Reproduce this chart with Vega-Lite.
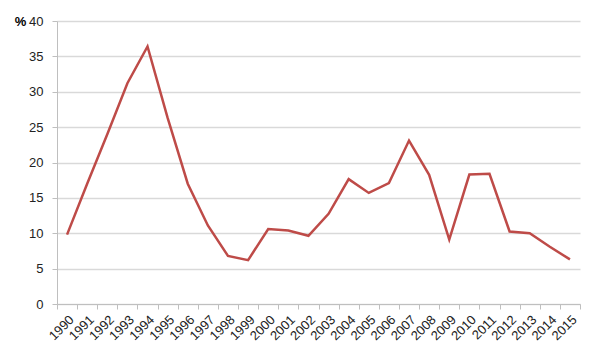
{
  "$schema": "https://vega.github.io/schema/vega-lite/v6.json",
  "autosize": "none",
  "width": 523,
  "height": 283,
  "padding": {"left": 57, "top": 21, "right": 26, "bottom": 43},
  "background": "white",
  "config": {"view": {"stroke": null}, "font": "Liberation Sans"},
  "data": {"values": [
    {"year": "1990", "value": 9.8},
    {"year": "1991", "value": 17.0},
    {"year": "1992", "value": 24.0},
    {"year": "1993", "value": 31.2},
    {"year": "1994", "value": 36.4},
    {"year": "1995", "value": 26.3},
    {"year": "1996", "value": 17.0},
    {"year": "1997", "value": 11.1},
    {"year": "1998", "value": 6.8},
    {"year": "1999", "value": 6.2},
    {"year": "2000", "value": 10.6},
    {"year": "2001", "value": 10.4},
    {"year": "2002", "value": 9.65},
    {"year": "2003", "value": 12.75},
    {"year": "2004", "value": 17.65},
    {"year": "2005", "value": 15.7},
    {"year": "2006", "value": 17.1},
    {"year": "2007", "value": 23.1},
    {"year": "2008", "value": 18.25},
    {"year": "2009", "value": 9.1},
    {"year": "2010", "value": 18.3},
    {"year": "2011", "value": 18.4},
    {"year": "2012", "value": 10.25},
    {"year": "2013", "value": 10.0},
    {"year": "2014", "value": 8.1},
    {"year": "2015", "value": 6.3}
  ]},
  "mark": {"type": "line", "color": "#BE4B48", "strokeWidth": 2.5},
  "encoding": {
    "x": {
      "field": "year", "type": "ordinal", "bandPosition": 0.5,
      "scale": {"type": "band", "paddingInner": 0, "paddingOuter": 0},
      "axis": {
        "title": null, "grid": false, "tickBand": "extent",
        "domainColor": "#bfbfbf", "tickColor": "#bfbfbf", "tickSize": 5,
        "labelAngle": -45, "labelAlign": "right", "labelBaseline": "top",
        "labelFontSize": 13, "labelColor": "#222", "labelPadding": 4,
        "labelOffset": 0
      }
    },
    "y": {
      "field": "value", "type": "quantitative",
      "scale": {"domain": [0, 40], "nice": false},
      "axis": {
        "values": [0, 5, 10, 15, 20, 25, 30, 35, 40],
        "title": "%", "titleAngle": 0, "titleX": -37, "titleY": 0,
        "titleAlign": "center", "titleBaseline": "middle",
        "titleFontSize": 13, "titleFontWeight": "bold", "titleColor": "#000",
        "gridColor": "#d9d9d9", "gridWidth": 1.5,
        "domainColor": "#bfbfbf", "tickColor": "#bfbfbf", "tickSize": 5,
        "labelFontSize": 13, "labelColor": "#222", "labelPadding": 9
      }
    }
  }
}
